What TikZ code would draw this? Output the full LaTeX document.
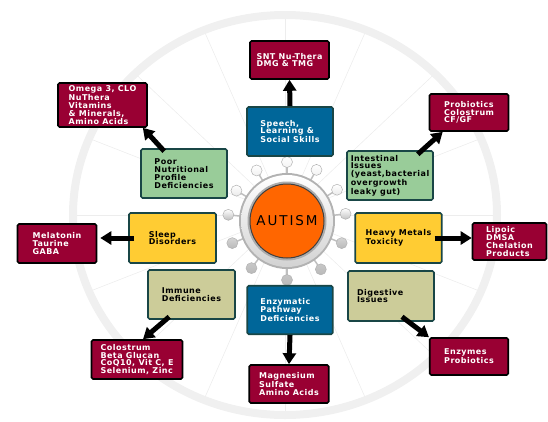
\documentclass[tikz,border=0pt]{standalone}
\usepackage{fontspec}
\setmainfont{DejaVu Sans}
\newfontfamily\boxfont{DejaVu Sans}[LetterSpace=6]
\newfontfamily\hubfont{DejaVu Sans}[LetterSpace=14]
\usepackage{tikz}
\usetikzlibrary{shapes,arrows,arrows.meta}
\usetikzlibrary{positioning}
\definecolor{maroon}{RGB}{153,0,51}
\definecolor{skillblue}{RGB}{0,102,153}
\definecolor{gutgreen}{RGB}{153,204,153}
\definecolor{sleepyellow}{RGB}{255,204,51}
\definecolor{beige}{RGB}{204,204,153}
\definecolor{boxedge}{RGB}{25,70,70}
\definecolor{hubfill}{RGB}{255,102,0}

\begin{document}
\begin{tikzpicture}[x=1pt,y=-1pt]
\useasboundingbox (0,0) rectangle (548,421);

\tikzset{>={Triangle[width=13pt,length=11pt]}}
\tikzstyle{issue} = [
	draw=boxedge, line width=1.6pt, rounded corners=1.5pt, rectangle,
	align=left, inner sep=0pt,
	font=\boxfont\bfseries\fontsize{8}{7.8}\selectfont ];
\tikzstyle{remedy} = [issue, draw=black, fill=maroon, text=white];
\tikzstyle{push} = [->, line width=5pt];

% wheel behind everything
\foreach \a in {0,22.5,...,337.5}
	\draw[gray!14, line width=.6pt] (285,215) -- ++(\a:212 and 200);
\draw[gray!12, line width=8pt] (285,215) ellipse [x radius=212, y radius=200];

% hub with knobs
\foreach \a in {-90,-60,-32,-7,22,55,90,127,158,-174,-149,-121} {
	\draw[gray!50, line width=1.5pt] (287,221) ++(\a:46) -- ++(\a:10);
	\shade[top color=white, bottom color=gray!55] (287,221) ++(\a:59) circle (5.5pt);
	\draw[gray!60, line width=.5pt] (287,221) ++(\a:59) circle (5.5pt);
}
\fill[gray!60] (287,221) circle (48pt);
\shade[top color=white, bottom color=gray!35] (287,221) circle (46pt);
\fill[gray!65] (287,221) circle (39.5pt);
\node[circle, fill=hubfill, draw=black!75, line width=1pt, minimum size=74pt,
	inner sep=0pt, font=\hubfont\fontsize{13.5}{14}\selectfont] (autism) at (287,221) {AUTISM};

% problems and remedies
\node[remedy, minimum width=79pt, minimum height=38pt] (snt) at (289.5,60) {SNT Nu-Thera\\DMG \& TMG};
\node[issue, fill=skillblue, text=white, minimum width=86pt, minimum height=49pt] (speech) at (290,131.5) {Speech,\\Learning \&\\Social Skills};

\node[remedy, minimum width=89pt, minimum height=44pt] (omega) at (102.5,105) {Omega 3, CLO\\NuThera\\Vitamins\\\& Minerals,\\Amino Acids};
\node[issue, fill=gutgreen, minimum width=86pt, minimum height=49pt] (poor) at (184,173.5) {Poor\\Nutritional\\Profile\\Deficiencies};

\node[remedy, minimum width=79pt, minimum height=37pt] (probio) at (469,112.5) {Probiotics\\Colostrum\\CF/GF};
\node[issue, fill=gutgreen, minimum width=86pt, minimum height=49pt] (gut) at (390,175.5) {Intestinal\\Issues\\(yeast,bacterial\\overgrowth\\leaky gut)};

\node[issue, fill=sleepyellow, minimum width=87pt, minimum height=50pt] (sleep) at (172.5,238) {Sleep\\Disorders};
\node[remedy, minimum width=79pt, minimum height=39pt] (melatonin) at (57,243.5) {Melatonin\\Taurine\\GABA};

\node[issue, fill=sleepyellow, minimum width=86.5pt, minimum height=50pt] (metals) at (398.5,238) {Heavy Metals\\Toxicity};
\node[remedy, minimum width=74pt, minimum height=37pt] (lipoic) at (509.5,241.5) {Lipoic\\DMSA\\Chelation\\Products};

\node[issue, fill=beige, minimum width=87pt, minimum height=49pt] (immune) at (191.5,294.5) {Immune\\Deficiencies};
\node[remedy, minimum width=91pt, minimum height=39pt] (colostrum) at (137,359.5) {Colostrum\\Beta Glucan\\CoQ10, Vit C, E\\Selenium, Zinc};

\node[issue, fill=skillblue, text=white, minimum width=85.5pt, minimum height=48.5pt] (enzymatic) at (290,310) {Enzymatic\\Pathway\\Deficiencies};
\node[remedy, minimum width=79.5pt, minimum height=38pt] (magnesium) at (289,384) {Magnesium\\Sulfate\\Amino Acids};

\node[issue, fill=beige, minimum width=86pt, minimum height=50pt, text width=68pt] (digestive) at (391,296) {Digestive\\Issues};
\node[remedy, minimum width=78.5pt, minimum height=37pt] (enzymes) at (469,356.5) {Enzymes\\Probiotics};

% arrows
\draw[push] (speech.north) -- (snt.south);
\draw[push] ([xshift=24pt,yshift=-3pt]poor.north west) -- ([xshift=-5pt]omega.south east);
\draw[push] ([xshift=-16pt,yshift=-4pt]gut.north east) -- ([xshift=14pt]probio.south west);
\draw[push, shorten >=3pt] ([xshift=6pt]sleep.west) -- (sleep.west -| melatonin.east);
\draw[push] ([xshift=-8pt]metals.east) -- (metals.east -| lipoic.west);
\draw[push] ([xshift=22pt,yshift=3pt]immune.south west) -- ([xshift=6pt]colostrum.north);
\draw[push] (enzymatic.south) -- (magnesium.north);
\draw[push] ([xshift=11pt,yshift=5pt]digestive.south) -- (enzymes.north west);

\end{tikzpicture}
\end{document}
